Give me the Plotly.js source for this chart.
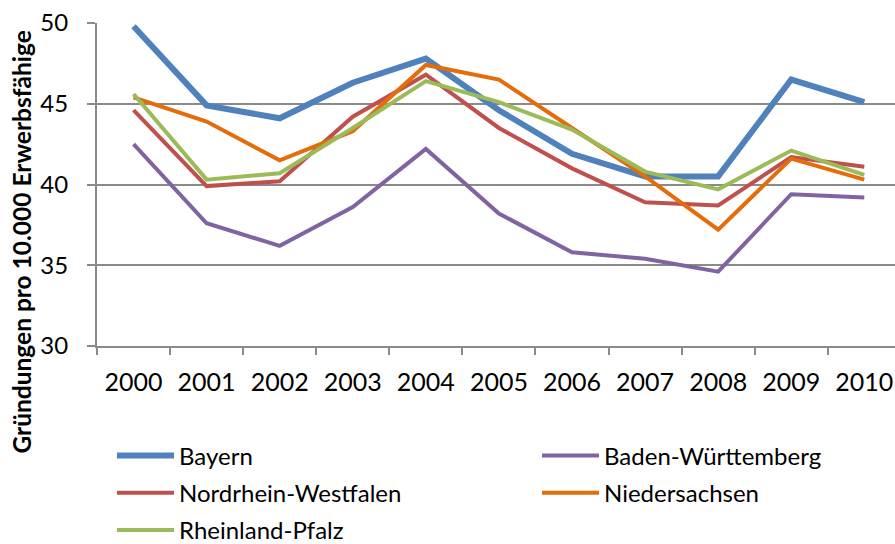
<!DOCTYPE html>
<html>
<head>
<meta charset="utf-8">
<script src="https://cdn.plot.ly/plotly-3.0.1.min.js"></script>
<style>html,body{margin:0;padding:0;background:#fff;}#chart{width:895px;height:544px;}</style>
</head>
<body>
<div id="chart"></div>
<script>
var years = ['2000','2001','2002','2003','2004','2005','2006','2007','2008','2009','2010'];
var bayern = [49.8, 44.9, 44.1, 46.3, 47.8, 44.6, 41.9, 40.5, 40.5, 46.5, 45.1];
var badenW = [42.5, 37.6, 36.2, 38.6, 42.2, 38.2, 35.8, 35.4, 34.6, 39.4, 39.2];
var nrw = [44.6, 39.9, 40.2, 44.2, 46.8, 43.5, 41.0, 38.9, 38.7, 41.7, 41.1];
var niedersachsen = [45.4, 43.9, 41.5, 43.3, 47.4, 46.5, 43.5, 40.5, 37.2, 41.6, 40.3];
var rheinlandPfalz = [45.6, 40.3, 40.7, 43.5, 46.4, 45.1, 43.4, 40.8, 39.7, 42.1, 40.6];
var yTitle = 'Gründungen pro 10.000 Erwerbsfähige';

var font = 'Lato, "Open Sans", sans-serif';
function tr(name, y, color, width, legend, group) {
  return {type: 'scatter', mode: 'lines', x: years, y: y, name: name,
    line: {color: color, width: width}, legend: legend, legendgroup: group};
}
var data = [
  tr('Bayern', bayern, '#4F81BD', 6, 'legend', 'a'),
  tr('Baden-Württemberg', badenW, '#8064A2', 4, 'legend2', 'b'),
  tr('Nordrhein-Westfalen', nrw, '#C0504D', 4, 'legend', 'c'),
  tr('Niedersachsen', niedersachsen, '#E46C0A', 4, 'legend2', 'd'),
  tr('Rheinland-Pfalz', rheinlandPfalz, '#9BBB59', 4, 'legend', 'e')
];
var grid = '#8a8a8a';
var legendCommon = {orientation: 'v', yanchor: 'top', xanchor: 'left', y: -0.2706,
  font: {family: font, size: 24, color: '#000'}, itemwidth: 57, tracegroupgap: 3,
  bgcolor: 'rgba(0,0,0,0)'};
var layout = {
  width: 895, height: 544,
  margin: {l: 97, r: 0, t: 23, b: 198, autoexpand: false},
  paper_bgcolor: '#fff', plot_bgcolor: '#fff',
  font: {family: font, color: '#000'},
  xaxis: {type: 'category', range: [-0.5, 10.42], tickson: 'boundaries', ticks: 'outside',
    ticklen: 7, tickcolor: grid, tickwidth: 2, showline: true, linecolor: grid, linewidth: 2,
    showgrid: false, tickfont: {family: font, size: 25, color: '#000'}, ticklabelstandoff: 13,
    tickangle: 0, automargin: false, fixedrange: true},
  yaxis: {range: [30, 50], dtick: 5, ticks: 'outside', ticklen: 8, tickcolor: grid, tickwidth: 2,
    showline: true, linecolor: grid, linewidth: 2, showgrid: true, gridcolor: grid, gridwidth: 2,
    zeroline: false, tickfont: {family: font, size: 24, color: '#000'}, ticklabelstandoff: 14,
    automargin: false, fixedrange: true},
  legend: Object.assign({}, legendCommon, {x: 0.0188}),
  legend2: Object.assign({}, legendCommon, {x: 0.5514}),
  annotations: [{text: yTitle, xref: 'paper', yref: 'paper', x: -0.0945, y: 0.322,
    xanchor: 'center', yanchor: 'middle', textangle: -90, showarrow: false,
    font: {family: font, size: 24.5, color: '#000', weight: 'bold'}}]
};
Plotly.newPlot('chart', data, layout, {displayModeBar: false, staticPlot: true});
</script>
</body>
</html>
